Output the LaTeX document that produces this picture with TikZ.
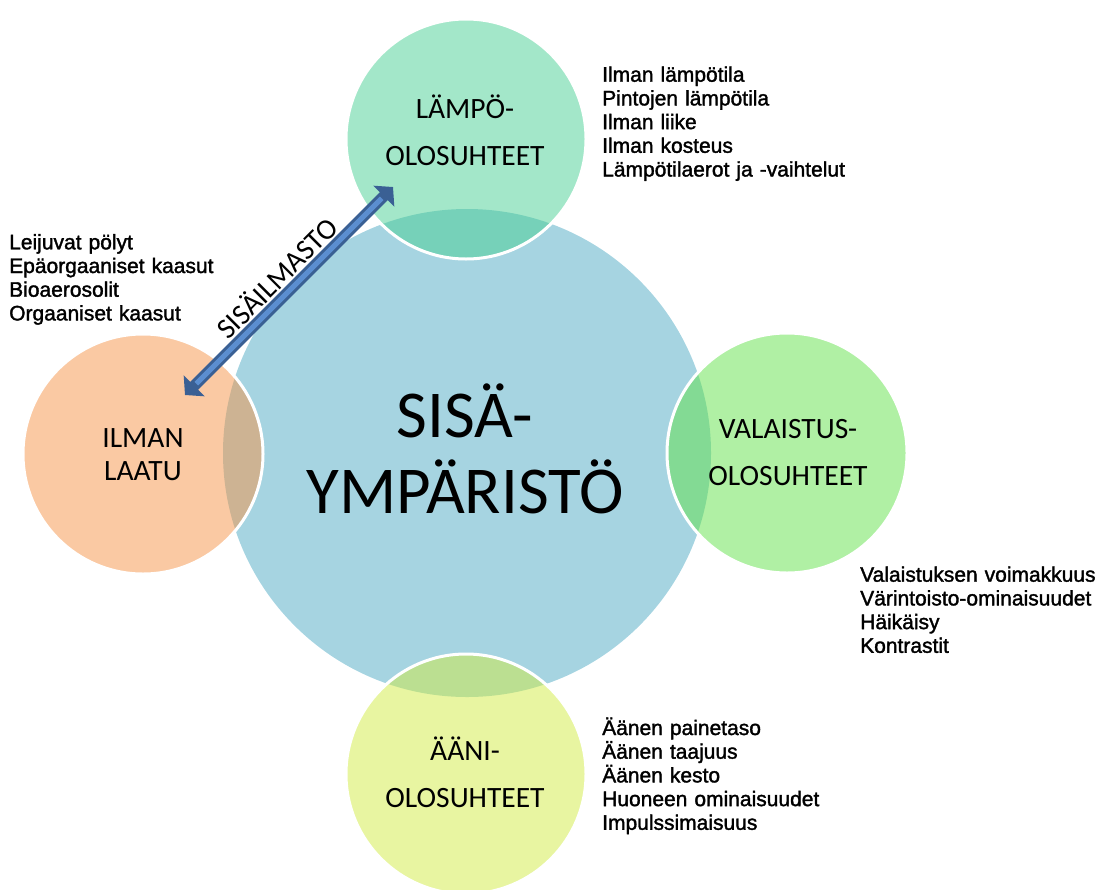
\documentclass[tikz,border=0pt]{standalone}
\usepackage{fontspec}
\setmainfont{Carlito}
\newfontfamily\listfont{Liberation Sans}[BoldFont={Liberation Sans},BoldFeatures={FakeBold=1.6}]
\usetikzlibrary{arrows.meta}
\definecolor{SisaBlue}{HTML}{A6D4E1}
\definecolor{LampoGreen}{HTML}{47CF93}
\definecolor{IlmaPeach}{HTML}{F59347}
\definecolor{ValoGreen}{HTML}{61E149}
\definecolor{AaniYellow}{HTML}{D1EB43}
\definecolor{ArrowDark}{HTML}{3A6094}
\definecolor{ArrowLight}{HTML}{5B8ED0}

\begin{document}
\begin{tikzpicture}[x=1pt,y=-1pt]
    \tikzset{bigcircle/.style={circle,minimum size=488pt,inner sep=0pt,fill=SisaBlue},
      bubble/.style={circle,minimum size=240pt,inner sep=0pt,fill opacity=0.5,draw=white,line width=3pt},
      circlelabel/.style={anchor=base,text width=220pt,align=center,inner sep=0pt,
        font=\fontsize{29.5}{47}\selectfont},
      itemlist/.style={anchor=base west,text width=260pt,align=left,inner sep=0pt,
        font=\listfont\bfseries\fontsize{21}{23.7}\selectfont}}
    \useasboundingbox (0,0) rectangle (1105,889);
    \node[bigcircle] (sisa) at (467,453) {};
    \node[bubble,fill=LampoGreen] (lampo) at (466,139) {};
    \node[bubble,fill=IlmaPeach] (ilma) at (143,454) {};
    \node[bubble,fill=ValoGreen] (valo) at (787,453) {};
    \node[bubble,fill=AaniYellow] (aani) at (466,774) {};
    \node[anchor=base,text width=420pt,align=center,inner sep=0pt,font=\fontsize{67}{76}\selectfont]
      (sisatext) at (465,437) {SISÄ-\\YMPÄRISTÖ};
    \node[circlelabel] (lampotext) at (465,118) {LÄMPÖ-\\OLOSUHTEET};
    \node[circlelabel,font=\fontsize{29.5}{33}\selectfont] (ilmatext) at (143,447) {ILMAN\\LAATU};
    \node[circlelabel] (valotext) at (788,438) {VALAISTUS-\\OLOSUHTEET};
    \node[circlelabel] (aanitext) at (465,760) {ÄÄNI-\\OLOSUHTEET};
    \node[itemlist] (lampolist) at (602,81.7) {Ilman lämpötila\\Pintojen lämpötila\\Ilman liike\\Ilman kosteus\\Lämpötilaerot ja -vaihtelut};
    \node[itemlist] (ilmalist) at (9,249.3) {Leijuvat pölyt\\Epäorgaaniset kaasut\\Bioaerosolit\\Orgaaniset kaasut};
    \node[itemlist] (valolist) at (860,581.7) {Valaistuksen voimakkuus\\Värintoisto-ominaisuudet\\Häikäisy\\Kontrastit};
    \node[itemlist] (aanilist) at (602,735) {Äänen painetaso\\Äänen taajuus\\Äänen kesto\\Huoneen ominaisuudet\\Impulssimaisuus};
    % sisäilmasto arrow
    \coordinate (airtip) at (185,395);
    \coordinate (heattip) at (393,187);
    \draw[ArrowDark,line width=11pt,{Triangle[length=13pt,width=29pt]}-{Triangle[length=13pt,width=29pt]}] (airtip) -- (heattip);
    \draw[ArrowLight,line width=5pt,shorten <=16pt,shorten >=16pt] (airtip) -- (heattip);
    \node[rotate=45,font=\fontsize{29}{29}\selectfont] (sisailma) at (276,277) {SISÄILMASTO};
  \end{tikzpicture}
\end{document}
